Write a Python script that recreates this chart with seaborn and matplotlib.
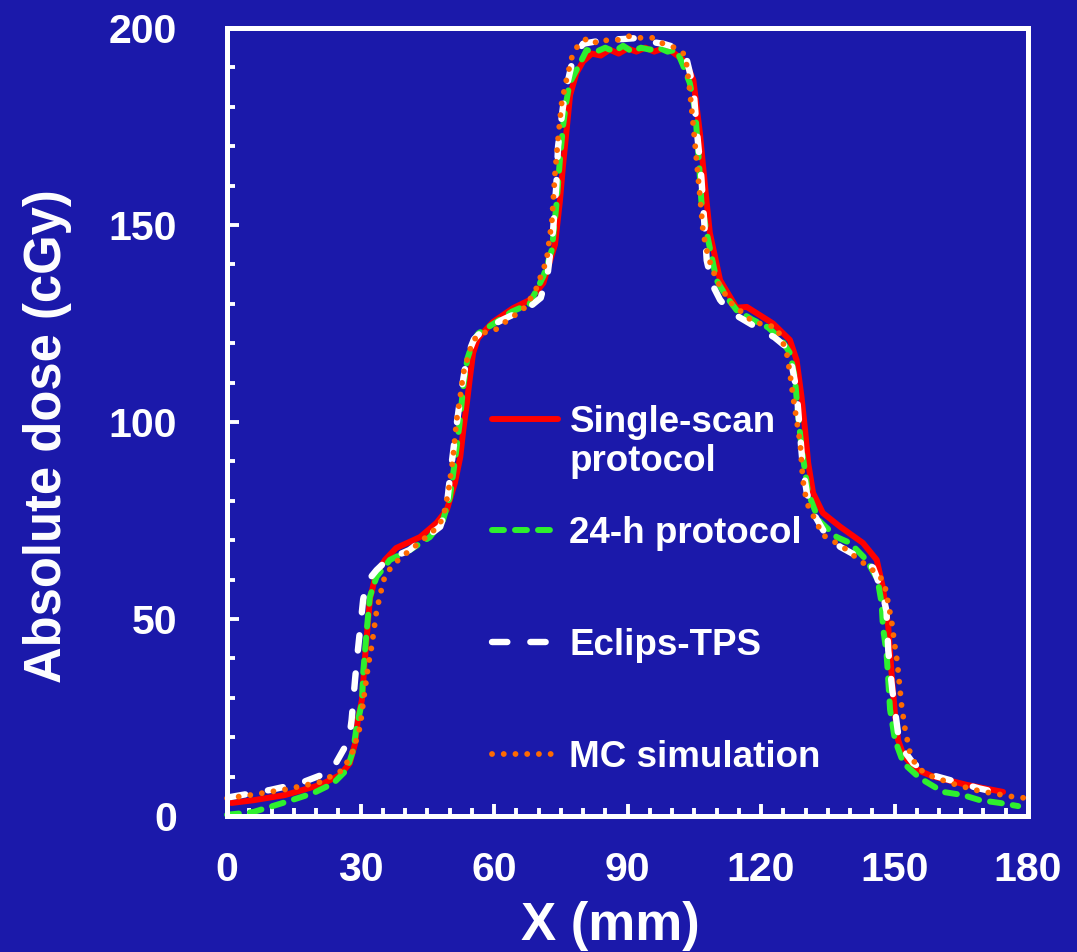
import matplotlib
matplotlib.use("Agg")
import matplotlib.pyplot as plt
import seaborn as sns

# Dose profiles: X (mm) vs absolute dose (cGy)
single_x = [1, 6, 13, 21, 25.4, 27.6, 28.8, 29.4, 30.3, 31, 32.1, 33.5, 35.5, 38, 43.4, 47.1,
            49.4, 51.2, 52.4, 53.1, 53.9, 54.6, 55.3, 56.4, 59.8, 64.3, 68.1, 71.1, 71.8, 73.7,
            74.8, 75.5, 76.3, 77.1, 78.5, 80, 82, 84, 86, 88, 90, 92, 94, 96, 98, 100, 102.5,
            103.8, 104.8, 106.3, 107.4, 108.5, 110.8, 114.5, 116.8, 122.7, 126.5, 128, 129.1,
            129.9, 130.6, 131.7, 133.9, 137.8, 142.9, 146, 147.4, 148.6, 149.4, 150.1, 150.8,
            152, 153.5, 155.5, 158.7, 166.2, 174.4]
single_y = [3.3, 4, 5.3, 7.9, 10.4, 13.4, 18.5, 24.4, 29.4, 40, 55, 61.5, 65, 68, 70.8, 74.4,
            77.7, 84.5, 91, 98, 104.8, 111.4, 117.5, 121.3, 125.4, 128.9, 131, 135.3, 138, 145,
            156, 165, 174, 183, 188.5, 191.5, 193.5, 193, 194.5, 193.5, 194.8, 194, 195, 194,
            194.8, 194, 191.9, 189.5, 186.8, 173, 160, 148, 136, 129, 129.2, 125, 120.8, 115.7,
            106.4, 98, 89.6, 82, 76.9, 73.4, 69.3, 65, 58, 48, 35.3, 26, 19.3, 15.5, 13.4, 11.5,
            10, 7.9, 6.1]

h24_x = [0, 5.9, 13.4, 19.4, 23.9, 26.9, 28.4, 29.1, 30.3, 30.6, 31.4, 32.1, 33.6, 36.6, 41.1,
         45.6, 48.5, 50.1, 51.2, 52.2, 53.1, 54, 55.3, 56.5, 60, 64, 68, 71.1, 73, 74.1, 74.8,
         75.5, 76.2, 77, 79.3, 80.8, 83, 85, 87, 89, 91, 93, 95, 97, 99, 101, 102.5, 104, 105.2,
         106, 106.6, 107.8, 110, 112.3, 114.5, 118, 121.6, 124.5, 126.5, 127.6, 128.3, 129.1,
         130.6, 133, 137, 140, 143.7, 146.2, 147.1, 147.4, 148.2, 148.5, 149, 150.1, 152, 155.7,
         160.9, 165.4, 169.2, 173.7, 177.8]
h24_y = [0.3, 1, 3.6, 5.8, 8.3, 11.7, 16.8, 22.6, 28.7, 36.3, 47.2, 55.6, 60.7, 65, 67.5, 70.8,
         75, 81, 90, 99, 109, 116, 120.5, 122.5, 125, 128, 130, 137, 143.7, 156, 166.5, 175, 181,
         186, 191, 194.4, 194, 195, 194, 195.5, 194, 195, 194.5, 195, 194, 194.5, 190.5, 186, 179,
         167, 156, 148, 136, 131.7, 128.4, 126, 124, 121, 117.5, 111.4, 102, 93.7, 82, 75, 70.8,
         69.3, 65, 60, 54, 48, 41.4, 36.3, 27, 19.3, 13.4, 9.6, 6.1, 5.3, 4, 3.3, 2.5]

tps_x = [0.7, 9.7, 16.4, 23.1, 24.6, 26.5, 27.6, 28, 28.8, 29.4, 30.6, 31.5, 33.6, 36, 41, 47.9,
         49.3, 50.1, 51.2, 52.4, 53.9, 55.5, 57.5, 62, 68, 70.5, 72.1, 73.3, 74, 74.4, 75.5, 76.5,
         77.7, 80, 82.5, 85.3, 89, 92.8, 95.7, 98, 101, 103.3, 104.8, 105.5, 106.6, 107.8, 109,
         110.8, 113, 116, 119, 123, 125.7, 127, 128, 128.7, 129.4, 130.3, 131.7, 134.5, 137.8,
         141.5, 145.2, 147.2, 148.2, 148.6, 149.5, 150.8, 152.5, 154.2, 158, 164.7, 169, 173.7,
         175.5]
tps_y = [4.8, 6.6, 8.3, 11.2, 13.7, 17.5, 21, 24.4, 35, 42, 55, 59.5, 62.4, 65, 67.5, 73.4, 78,
         86, 96, 106, 116.5, 121, 123.3, 126, 129.2, 131.5, 138, 149, 160, 170, 180, 186, 192,
         196, 196.5, 197, 197.2, 197.5, 196.4, 196, 195, 192, 185, 175, 162, 141, 135, 131, 128,
         126, 124, 121.5, 119, 114, 108, 98, 88.6, 82, 77, 71.5, 68.3, 66, 63, 57, 52, 42, 32,
         21, 16, 13.4, 10.5, 8.4, 7, 5.8, 5.5]

mc_x = [0, 5.2, 13.4, 20.9, 26.1, 28.4, 29.9, 30.6, 31.7, 32.5, 33.6, 34.8, 35.5, 37.3, 39.2,
        43.4, 47.4, 48.6, 49.7, 50.8, 51.6, 52.4, 53.1, 54.6, 55.3, 57.5, 60.2, 64, 66.2, 69.2,
        71.8, 73, 73.7, 74.4, 75.2, 76.3, 77.5, 78.9, 81.1, 83.4, 85.5, 87.9, 90.6, 92.8, 95.8,
        98, 100.7, 102.5, 103.3, 104, 104.8, 105.5, 106.3, 107, 108.1, 110, 113, 118.2, 123.5,
        125.7, 126.5, 127.2, 128, 128.8, 129.4, 130.3, 133.9, 138.4, 140.7, 146.7, 147.9, 148.8,
        149.4, 150.1, 150.5, 150.8, 151.6, 152.4, 153.5, 154.6, 156.4, 158.7, 163.9, 169.2,
        174.4, 177, 180]
mc_y = [4.5, 5.3, 6.8, 8.6, 11.7, 16.8, 22.6, 28.7, 38, 43, 52, 58, 61, 63.7, 65.7, 69.5, 73.4,
        75.9, 82, 91, 100.5, 106.4, 112.4, 118.3, 120.8, 122.6, 123.3, 126.7, 128, 133, 141, 151,
        163, 172, 181, 187, 192.6, 195.7, 197.5, 196, 197, 197, 198, 197.5, 197.5, 196, 195,
        193.6, 190.6, 184, 175, 166.5, 157, 148, 142, 136, 130.5, 125.4, 124, 118, 112.4, 106.4,
        100.5, 94.6, 85.3, 79.4, 71.3, 68.3, 66.2, 61, 58, 52.8, 49, 43, 40, 37, 28, 21.8, 16,
        13.4, 11.2, 9.9, 7.9, 6.3, 5.3, 4.8, 4.5]

bg = "#1B19AA"

sns.set_style("ticks")
plt.rcParams["font.family"] = ["Liberation Sans", "DejaVu Sans"]
plt.rcParams["font.weight"] = "bold"

fig = plt.figure(figsize=(10.77, 9.52), dpi=100, facecolor=bg)
ax = fig.add_axes([0.2108, 0.1429, 0.7437, 0.8277])
ax.set_facecolor(bg)

# red solid, green short dash, white long dash, orange dots
sns.lineplot(x=single_x, y=single_y, ax=ax, color="#FF0000", lw=4.3, estimator=None,
             sort=False, solid_capstyle="round", clip_on=False)
sns.lineplot(x=h24_x, y=h24_y, ax=ax, color="#2EF02E", lw=4.3, estimator=None, sort=False,
             linestyle=(0, (2.0, 1.85)), dash_capstyle="round", clip_on=False)
sns.lineplot(x=tps_x, y=tps_y, ax=ax, color="white", lw=4.6, estimator=None, sort=False,
             linestyle=(0, (2.4, 3.6)), dash_capstyle="round", clip_on=False)
sns.lineplot(x=mc_x, y=mc_y, ax=ax, color="#FF6A00", lw=4.2, estimator=None, sort=False,
             linestyle=(0, (0.01, 2.0)), dash_capstyle="round", clip_on=False)

ax.set_xlim(0, 180)
ax.set_ylim(0, 200)
ax.set_xticks(range(0, 181, 30))
ax.set_xticks(range(0, 181, 5), minor=True)
ax.set_yticks(range(0, 201, 50))
ax.set_yticks(range(0, 201, 10), minor=True)
ax.tick_params(which="both", direction="in", colors="white", width=2.8,
               top=False, right=False, left=True, bottom=True)
ax.tick_params(which="major", length=8.5, labelsize=29.5)
ax.tick_params(which="minor", length=5.5)
ax.tick_params(axis="x", which="major", pad=25)
ax.tick_params(axis="y", which="major", pad=36)

for s in ax.spines.values():
    s.set_color("white")
    s.set_linewidth(3.6)

ax.set_xlabel("X (mm)", fontsize=38, color="white", fontweight="bold")
ax.xaxis.set_label_coords(0.478, -0.108)
ax.set_ylabel("Absolute dose (cGy)", fontsize=36.5, color="white", fontweight="bold")
ax.yaxis.set_label_coords(-0.193, 0.482)

lines = ax.get_lines()
blank = plt.Line2D([], [], color="none")
legend_kw = dict(loc="upper left", frameon=False, borderpad=0, borderaxespad=0,
                 handlelength=1.8, handletextpad=0.3, labelcolor="white",
                 prop=dict(size=26.5, weight="bold"))
leg1 = ax.legend([lines[0], blank], ["Single-scan", "protocol"],
                 bbox_to_anchor=(0.331, 0.5216), labelspacing=0.1, **legend_kw)
ax.add_artist(leg1)
ax.legend(lines[1:4], ["24-h protocol", "Eclips-TPS", "MC simulation"],
          bbox_to_anchor=(0.331, 0.381), labelspacing=2.1, **legend_kw)

fig.savefig("out.png", dpi=100, facecolor=bg)
